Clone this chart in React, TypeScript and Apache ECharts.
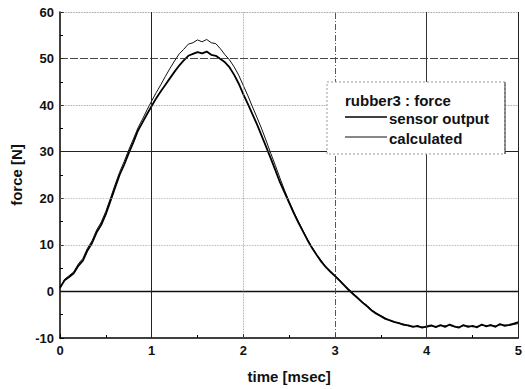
import React, { useEffect, useRef } from "react";
import * as echarts from "echarts";

const TIME = [
  0.0, 0.05, 0.1, 0.15, 0.2, 0.25, 0.3, 0.35, 0.4, 0.45,
  0.5, 0.55, 0.6, 0.65, 0.7, 0.75, 0.8, 0.85, 0.9, 0.95,
  1.0, 1.05, 1.1, 1.15, 1.2, 1.25, 1.3, 1.35, 1.4, 1.45,
  1.5, 1.55, 1.6, 1.65, 1.7, 1.75, 1.8, 1.85, 1.9, 1.95,
  2.0, 2.05, 2.1, 2.15, 2.2, 2.25, 2.3, 2.35, 2.4, 2.45,
  2.5, 2.55, 2.6, 2.65, 2.7, 2.75, 2.8, 2.85, 2.9, 2.95,
  3.0, 3.05, 3.1, 3.15, 3.2, 3.25, 3.3, 3.35, 3.4, 3.45,
  3.5, 3.55, 3.6, 3.65, 3.7, 3.75, 3.8, 3.85, 3.9, 3.95,
  4.0, 4.05, 4.1, 4.15, 4.2, 4.25, 4.3, 4.35, 4.4, 4.45,
  4.5, 4.55, 4.6, 4.65, 4.7, 4.75, 4.8, 4.85, 4.9, 4.95,
  5.0,
];

const SENSOR_OUTPUT = [
  0.8, 2.4, 3.1, 3.9, 5.5, 6.6, 8.8, 10.4, 12.7, 14.3,
  16.6, 19.4, 22.2, 25.0, 27.2, 29.7, 32.0, 34.5, 36.3, 38.1,
  39.8, 41.5, 43.0, 44.4, 45.8, 47.2, 48.5, 49.6, 50.6, 51.0,
  51.4, 51.1, 51.5, 50.8, 50.6, 49.9, 49.2, 48.1, 46.5, 44.6,
  42.3, 40.2, 38.0, 35.8, 33.4, 31.0, 28.5, 26.0, 23.4, 21.2,
  19.0, 16.8, 14.8, 12.9, 11.0, 9.3, 7.8, 6.4, 5.2, 4.2,
  3.3, 2.3, 1.3, 0.3, -0.6, -1.5, -2.4, -3.2, -4.1, -4.8,
  -5.3, -5.9, -6.2, -6.6, -6.8, -7.2, -7.3, -7.6, -7.4, -7.8,
  -7.5, -7.3, -7.7, -7.2, -7.6, -7.1, -7.5, -7.8, -7.2, -7.6,
  -7.4, -7.7, -7.1, -7.5, -7.2, -7.6, -7.0, -7.4, -7.2, -6.9,
  -6.6,
];

const CALCULATED = [
  0.6, 2.6, 3.4, 4.2, 5.9, 7.1, 9.3, 10.9, 13.2, 14.9,
  17.2, 20.0, 22.9, 25.6, 27.9, 30.4, 32.7, 35.1, 37.0, 39.0,
  40.9, 42.7, 44.4, 46.2, 47.9, 49.5, 51.0, 52.0, 53.1, 53.4,
  54.0, 53.6, 54.1, 53.4, 53.2, 52.1, 50.8, 49.7, 48.2, 46.4,
  44.2, 42.0, 39.6, 37.3, 34.9, 32.3, 29.6, 27.0, 24.3, 21.7,
  19.3, 17.1, 15.0, 13.1, 11.2, 9.5, 7.9, 6.6, 5.3, 4.4,
  3.4, 2.5, 1.4, 0.5, -0.5, -1.3, -2.3, -3.0, -4.0, -4.6,
  -5.2, -5.7, -6.3, -6.5, -6.9, -7.0, -7.4, -7.5, -7.6, -7.6,
  -7.7, -7.4, -7.5, -7.4, -7.4, -7.3, -7.6, -7.6, -7.4, -7.4,
  -7.6, -7.5, -7.3, -7.3, -7.4, -7.4, -7.2, -7.2, -7.3, -7.1,
  -6.9,
];

const Y_GRID = [0, 10, 20, 30, 40, 50, 60];
const X_GRID = [1, 2, 3, 4, 5];

const FONT = "Liberation Sans, Arial, sans-serif";

const yGridStyle: Record<number, any> = {
  0: { color: "#111", width: 1.3, type: "solid" },
  10: { color: "#999", width: 0.8, type: "dotted" },
  20: { color: "#aaa", width: 0.8, type: "dotted" },
  30: { color: "#222", width: 1, type: "solid" },
  40: { color: "#888", width: 0.8, type: "dotted" },
  50: { color: "#333", width: 0.9, type: [8, 2] },
  60: { color: "#777", width: 0.8, type: "dotted" },
};
const xGridStyle: Record<number, any> = {
  1: { color: "#222", width: 1, type: "solid" },
  2: { color: "#888", width: 0.8, type: "dotted" },
  3: { color: "#444", width: 0.9, type: [6, 2, 1, 2] },
  4: { color: "#333", width: 1, type: "solid" },
  5: { color: "#222", width: 1, type: "solid" },
};

export default function App() {
  const ref = useRef<HTMLDivElement>(null);
  useEffect(() => {
    if (!ref.current) return;
    const chart = echarts.init(ref.current, null, { renderer: "svg" });
    const sensor = TIME.map((t, i) => [t, SENSOR_OUTPUT[i]]);
    const calc = TIME.map((t, i) => [t, CALCULATED[i]]);
    const gridLines = [
      ...Y_GRID.map((v) => ({ yAxis: v, lineStyle: yGridStyle[v] })),
      ...X_GRID.map((v) => ({ xAxis: v, lineStyle: xGridStyle[v] })),
    ];
    const textStyle = (size: number) => ({
      fontFamily: FONT,
      fontSize: size,
      fontWeight: "bold",
      color: "#111",
    });
    chart.setOption({
      animation: false,
      grid: { left: 60, right: 5, top: 12, bottom: 50, containLabel: false },
      xAxis: {
        type: "value",
        min: 0,
        max: 5,
        interval: 1,
        name: "time [msec]",
        nameLocation: "middle",
        nameGap: 31,
        nameTextStyle: textStyle(15),
        axisLine: { show: true, onZero: false, lineStyle: { color: "#000", width: 1.5 } },
        axisTick: { show: true, inside: true, length: 4, lineStyle: { color: "#000" } },
        minorTick: { show: true, splitNumber: 2, length: 3, lineStyle: { color: "#000" } },
        axisLabel: { ...textStyle(13), margin: 6 },
        splitLine: { show: false },
      },
      yAxis: {
        type: "value",
        min: -10,
        max: 60,
        interval: 10,
        name: "force [N]",
        nameLocation: "middle",
        nameGap: 34,
        nameTextStyle: textStyle(15),
        axisLine: { show: true, onZero: false, lineStyle: { color: "#000", width: 1.5 } },
        axisTick: { show: true, inside: true, length: 4, lineStyle: { color: "#000" } },
        minorTick: { show: true, splitNumber: 2, length: 3, lineStyle: { color: "#000" } },
        axisLabel: { ...textStyle(13), margin: 6 },
        splitLine: { show: false },
      },
      series: [
        {
          name: "grid",
          type: "line",
          data: [],
          silent: true,
          z: 1,
          markLine: {
            silent: true,
            symbol: "none",
            label: { show: false },
            data: gridLines,
          },
        },
        {
          name: "calculated",
          type: "line",
          data: calc,
          showSymbol: false,
          z: 3,
          lineStyle: { color: "#111", width: 1 },
        },
        {
          name: "sensor output",
          type: "line",
          data: sensor,
          showSymbol: false,
          z: 4,
          lineStyle: { color: "#000", width: 1.8 },
        },
      ],
      graphic: [
        {
          type: "rect",
          shape: { x: 327, y: 82, width: 178, height: 72 },
          style: { fill: "#fff", stroke: "#999", lineWidth: 1, lineDash: [2, 2] },
          z: 10,
        },
        {
          type: "line",
          shape: { x1: 505, y1: 82, x2: 505, y2: 154 },
          style: { stroke: "#333", lineWidth: 1 },
          z: 11,
        },
        {
          type: "text",
          x: 345,
          y: 100,
          style: { text: "rubber3 : force", font: `bold 15px ${FONT}`, fill: "#111", verticalAlign: "middle" },
          z: 11,
        },
        {
          type: "line",
          shape: { x1: 345, y1: 117, x2: 387, y2: 117 },
          style: { stroke: "#000", lineWidth: 1.6 },
          z: 11,
        },
        {
          type: "text",
          x: 389,
          y: 118,
          style: { text: "sensor output", font: `bold 15px ${FONT}`, fill: "#111", verticalAlign: "middle" },
          z: 11,
        },
        {
          type: "line",
          shape: { x1: 345, y1: 137, x2: 387, y2: 137 },
          style: { stroke: "#111", lineWidth: 1 },
          z: 11,
        },
        {
          type: "text",
          x: 389,
          y: 138,
          style: { text: "calculated", font: `bold 15px ${FONT}`, fill: "#111", verticalAlign: "middle" },
          z: 11,
        },
      ],
    });
    return () => chart.dispose();
  }, []);
  return <div ref={ref} style={{ width: 525, height: 389, position: "absolute", left: 0, top: 0 }} />;
}
